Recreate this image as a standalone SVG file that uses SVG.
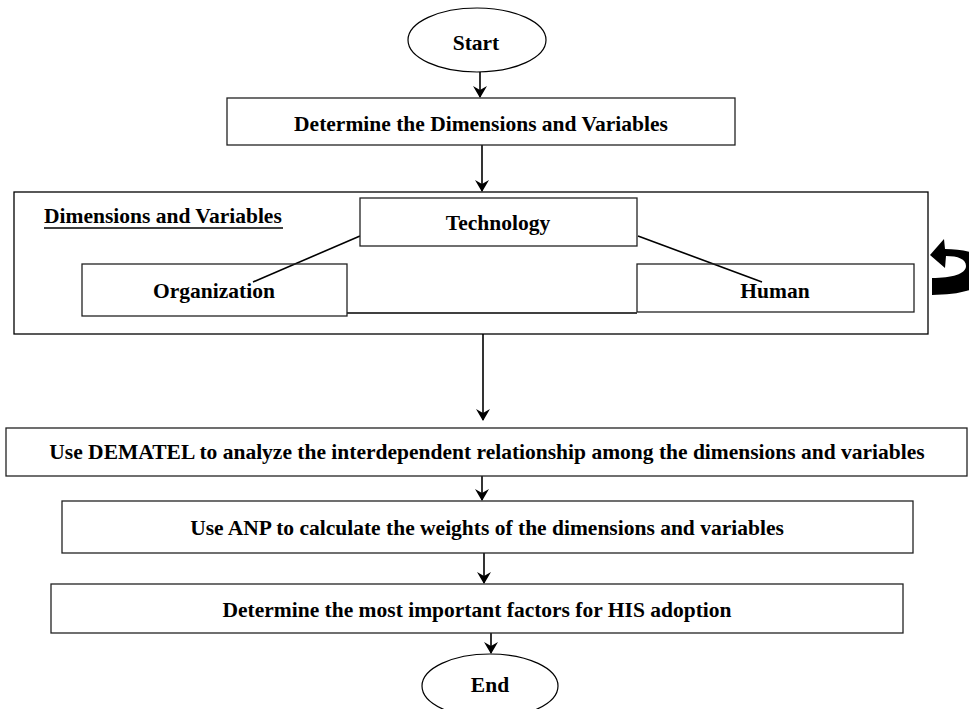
<svg xmlns="http://www.w3.org/2000/svg" width="969" height="709" viewBox="0 0 969 709">
<style>
text{font-family:"Liberation Serif","Times New Roman",serif;font-weight:bold;font-size:21.5px;fill:#000;text-anchor:middle}
.box{fill:#fff;stroke:#222;stroke-width:1.3}
.ln{stroke:#000;stroke-width:1.6;fill:none}
.ar{stroke:#000;stroke-width:1.6;fill:none;marker-end:url(#ah)}
</style>
<defs>
<marker id="ah" markerWidth="12" markerHeight="14" refX="11" refY="7" orient="auto" markerUnits="userSpaceOnUse">
<path d="M0,0 L12,7 L0,14 L4,7 z" fill="#000"/>
</marker>
</defs>
<rect width="969" height="709" fill="#fff"/>
<g id="connectors">
<line class="ar" x1="480" y1="72" x2="480" y2="97"/>
<line class="ar" x1="482" y1="145" x2="482" y2="191"/>
<line class="ar" x1="483" y1="334" x2="483" y2="420"/>
<line class="ar" x1="482" y1="476" x2="482" y2="500"/>
<line class="ar" x1="484" y1="553" x2="484" y2="583"/>
<line class="ar" x1="491" y1="633" x2="491" y2="653"/>
</g>
<g id="start"><ellipse cx="477" cy="40" rx="69" ry="32" fill="#fff" stroke="#000" stroke-width="1.2"/><text x="476" y="50">Start</text></g>
<g id="determine"><rect class="box" x="227" y="98" width="508" height="47"/><text x="481" y="131">Determine the Dimensions and Variables</text></g>
<g id="dimensions">
<rect x="14" y="192" width="914" height="142" fill="#fff" stroke="#000" stroke-width="1.3"/>
<text x="44" y="223" style="text-anchor:start">Dimensions and Variables</text>
<line x1="44" y1="228" x2="283" y2="228" stroke="#000" stroke-width="1.6"/>
</g>
<g id="dim-links">
<line class="ln" x1="360" y1="236" x2="253" y2="282"/>
<line class="ln" x1="638" y1="236" x2="762" y2="282"/>
<line class="ln" x1="347" y1="313" x2="637" y2="313"/>
</g>
<g id="technology"><rect class="box" x="360" y="198" width="277" height="48" fill="none"/><text x="498" y="230">Technology</text></g>
<g id="organization"><rect class="box" x="82" y="264" width="265" height="52" style="fill:none"/><text x="214" y="298">Organization</text></g>
<g id="human"><rect class="box" x="637" y="264" width="277" height="48" style="fill:none"/><text x="775" y="298">Human</text></g>
<g id="loop">
<path d="M932,278 C952,278 966,274 966,266 C966,259 958,256 946,256 L945,268 L930,255 L944,239 L945,249 C968,249 990,256 990,270 C990,288 962,295 932,295 Z" fill="#000"/>
</g>
<g id="dematel"><rect class="box" x="6" y="428" width="961" height="48"/><text x="487" y="459">Use DEMATEL to analyze the interdependent relationship among the dimensions and variables</text></g>
<g id="anp"><rect class="box" x="62" y="501" width="851" height="52"/><text x="487" y="535">Use ANP to calculate the weights of the dimensions and variables</text></g>
<g id="his"><rect class="box" x="51" y="584" width="852" height="49"/><text x="477" y="617">Determine the most important factors for HIS adoption</text></g>
<g id="end"><ellipse cx="490" cy="686" rx="68" ry="32" fill="#fff" stroke="#000" stroke-width="1.2"/><text x="490" y="692">End</text></g>
</svg>
